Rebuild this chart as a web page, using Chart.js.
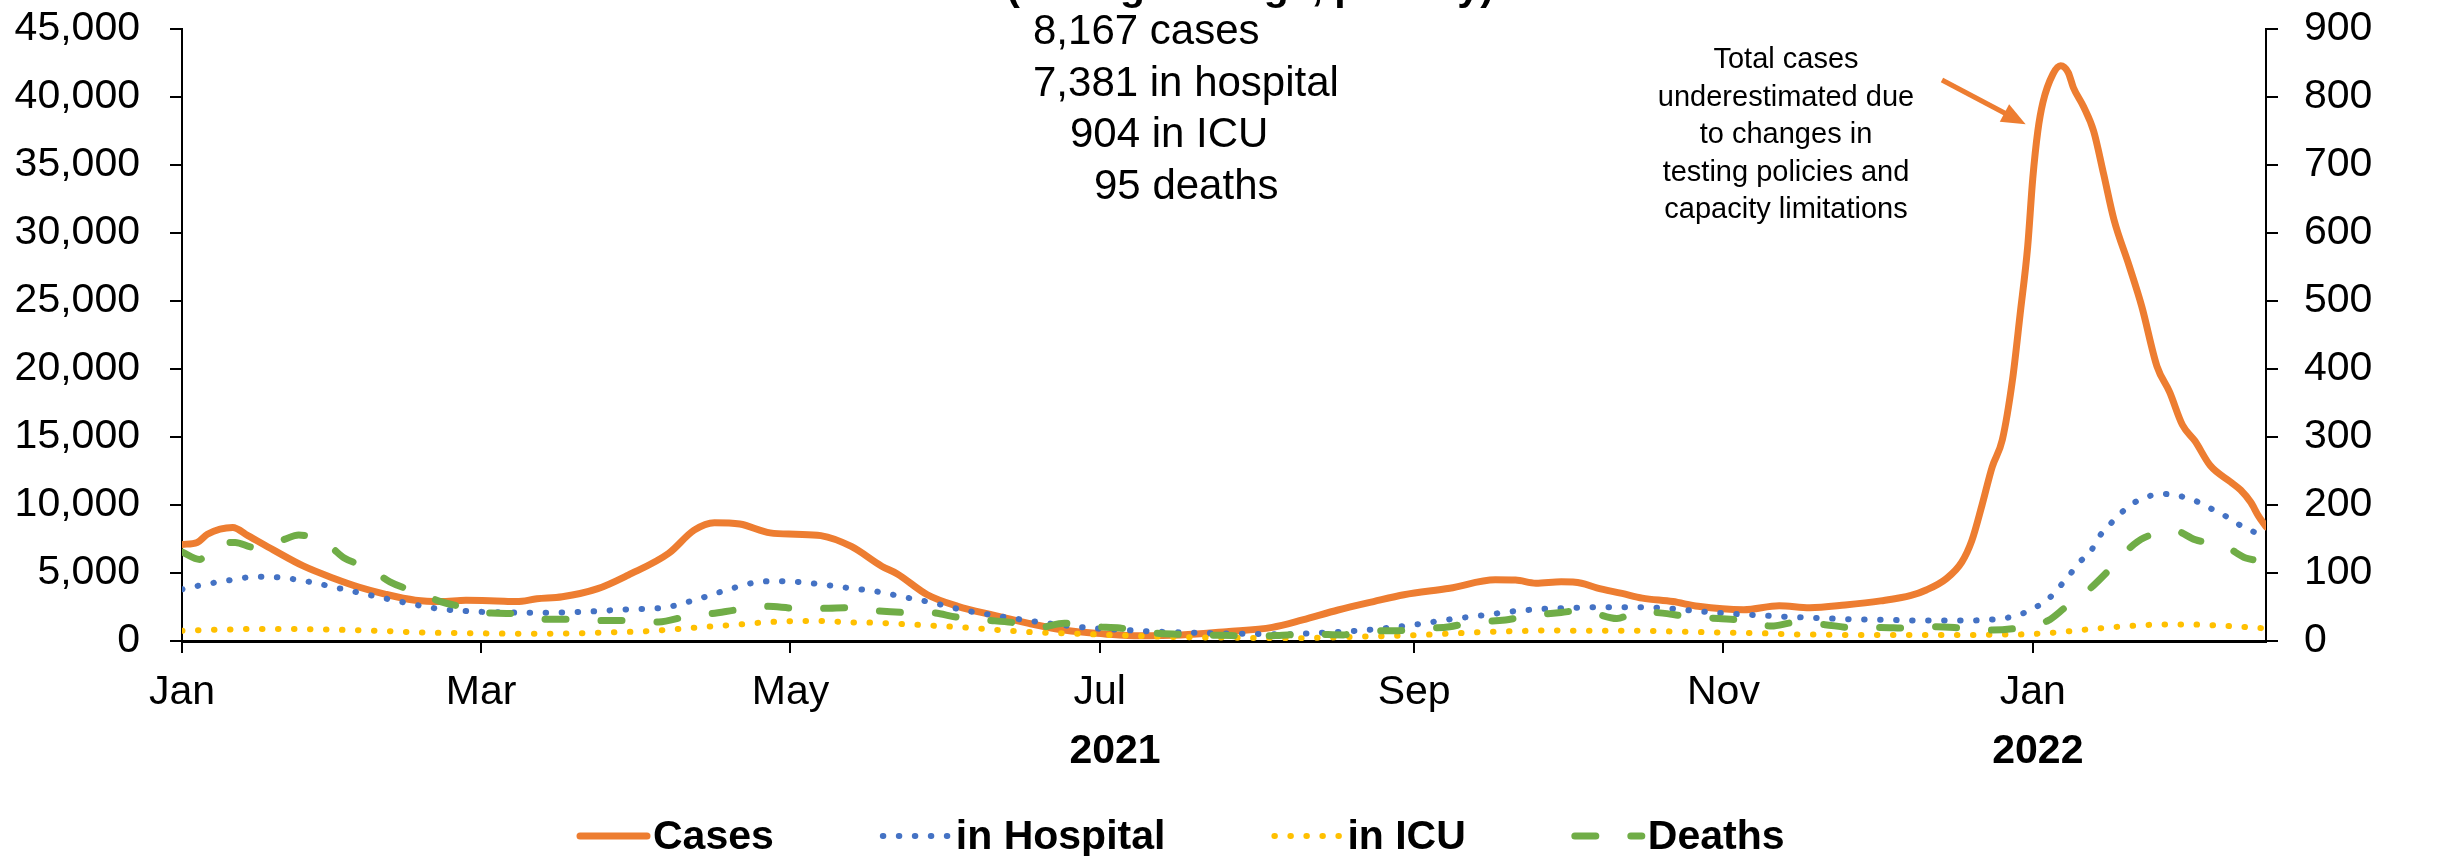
<!DOCTYPE html>
<html>
<head>
<meta charset="utf-8">
<script src="https://cdn.jsdelivr.net/npm/chart.js@4.4.0/dist/chart.umd.min.js"></script>
<style>
  html, body { margin: 0; padding: 0; background: #fff; overflow: hidden; }
  #wrap { width: 2441px; height: 856px; }
</style>
</head>
<body>
<div id="wrap"><canvas id="myChart" width="2441" height="856"></canvas></div>
<script>
// x values are days since 1 Jan 2021
const monthDays = [0, 59, 120, 181, 243, 304, 365]
const monthLabels = ["Jan", "Mar", "May", "Jul", "Sep", "Nov", "Jan"]
const yearLabels = ["2021", "2022"]
const yearDays = [184, 366]

const casesDays = [0, 3, 5, 10, 13, 18, 24, 30, 35, 40, 46, 51, 56, 62, 66, 70, 75, 82, 88, 96, 101, 105, 110, 116, 121, 126, 132, 138, 141, 147, 153, 160, 167, 174, 182, 189, 197, 206, 215, 221, 228, 235, 241, 250, 259, 263, 267, 272, 276, 279, 284, 288, 294, 299, 308, 315, 321, 328, 335, 341, 344, 348, 351, 353, 355, 357, 359, 361, 362.5, 364, 365, 366, 367, 369, 370.5, 372, 373, 375, 377, 379, 381, 384, 386.5, 389.5, 392, 394.5, 397, 400, 404, 406, 408, 409.5, 411]
const cases = [7100, 7250, 7850, 8350, 7750, 6700, 5500, 4600, 3950, 3450, 3000, 2900, 3000, 2950, 2900, 3100, 3250, 3850, 4850, 6450, 8150, 8700, 8600, 7950, 7850, 7750, 6950, 5500, 4950, 3400, 2550, 1900, 1300, 800, 520, 380, 440, 690, 1000, 1550, 2280, 2900, 3400, 3880, 4500, 4480, 4250, 4350, 4250, 3900, 3500, 3150, 2900, 2550, 2300, 2600, 2450, 2650, 2950, 3350, 3750, 4600, 5800, 7400, 10000, 12800, 14800, 19200, 24000, 29000, 34000, 37500, 39600, 41700, 42300, 41800, 40700, 39300, 37500, 34300, 31000, 27600, 24600, 20200, 18300, 15900, 14700, 12900, 11700, 11100, 10200, 9200, 8400]

const hospDays = [0, 3, 9, 15, 19, 25, 31, 37, 44, 50, 56, 62, 69, 76, 82, 88, 95, 101, 107, 113, 117, 120, 126, 132, 136, 139, 142, 148, 154, 161, 167, 174, 180, 186, 192, 199, 205, 212, 218, 225, 231, 237, 244, 250, 257, 263, 269, 273, 279, 285, 292, 298, 304, 311, 317, 323, 330, 337, 343, 349, 356, 362, 365, 368, 370, 372, 374, 376.5, 378, 380, 382.5, 385, 388, 391, 394, 397, 400, 403, 405.5, 408.5, 411]
const hospital = [3800, 4050, 4450, 4730, 4680, 4360, 3870, 3380, 2820, 2400, 2200, 2110, 2080, 2110, 2200, 2330, 2450, 3000, 3700, 4300, 4400, 4380, 4170, 3870, 3700, 3500, 3260, 2820, 2280, 1840, 1500, 1150, 930, 810, 690, 615, 560, 515, 500, 615, 735, 930, 1250, 1590, 1910, 2200, 2370, 2420, 2480, 2480, 2430, 2230, 2040, 1890, 1770, 1690, 1590, 1550, 1500, 1500, 1550, 1890, 2380, 3060, 3870, 4730, 5710, 6640, 7620, 8480, 9440, 10170, 10660, 10810, 10660, 10320, 9760, 9190, 8600, 8040, 7600]

const icuDays = [0, 7, 14, 20, 26, 33, 40, 46, 52, 59, 65, 71, 78, 85, 91, 97, 103, 110, 116, 123, 126, 132, 136, 142, 148, 155, 161, 167, 174, 180, 187, 193, 200, 206, 212, 219, 225, 232, 238, 244, 251, 257, 264, 270, 274, 280, 286, 293, 299, 305, 312, 318, 325, 331, 337, 344, 351, 357, 363, 370, 376, 382, 389, 395, 402, 408, 411]
const icu = [760, 830, 880, 880, 860, 810, 735, 640, 590, 565, 540, 540, 565, 640, 710, 860, 1030, 1220, 1400, 1470, 1470, 1370, 1350, 1250, 1130, 980, 810, 660, 565, 490, 390, 320, 270, 245, 220, 200, 245, 320, 370, 440, 565, 660, 735, 785, 760, 760, 760, 710, 660, 615, 565, 490, 465, 440, 440, 440, 440, 465, 490, 640, 860, 1050, 1200, 1220, 1130, 1000, 920]

// deaths use the right-hand axis
const deathDays = [0, 3.5, 6, 10.5, 14, 20, 23, 29, 32, 37, 41, 47, 51, 56, 61, 67, 72, 78, 83, 89, 94, 99.5, 104, 110.5, 115, 121.5, 126, 132, 136, 143, 147, 153, 158, 164, 169, 174, 180, 185, 190, 196, 201, 207, 212, 218, 223, 229, 233, 239, 244, 250, 254, 261, 265.5, 272, 276, 283, 287, 292, 296, 303, 308, 313.5, 318, 324, 329, 335, 340, 346, 351, 357, 362, 368, 371.5, 376, 380, 384, 387, 393, 397, 403, 407, 411]
const deaths = [131, 120, 139, 145, 138, 149, 156, 140, 122, 107, 87, 70, 58, 49, 41, 40, 32, 32, 30, 30, 28, 36, 40, 47, 51, 48, 48, 49, 45, 42, 42, 35, 31, 27, 20, 26, 21, 19, 13, 10, 9, 8, 7, 9, 10, 9, 15, 15, 18, 21, 27, 31, 37, 42, 45, 33, 43, 41, 37, 33, 30, 22, 27, 24, 20, 20, 19, 21, 19, 16, 19, 30, 50, 75, 104, 136, 152, 162, 149, 139, 122, 118]

const seriesNames = ["Cases", "in Hospital", "in ICU", "Deaths"]
const latestLines = ["8,167 cases", "7,381 in hospital", "904 in ICU", "95 deaths"]
const noteLines = ["Total cases", "underestimated due", "to changes in", "testing policies and", "capacity limitations"]

const FONT = '"Liberation Sans", Arial, sans-serif'
const ctx = document.getElementById('myChart')

const toPoints = (xs, ys) => xs.map((d, i) => ({ x: d, y: ys[i] }))

const styles = [
  { color: "#ED7D31", width: 7, dash: [] },
  { color: "#4472C4", width: 6, dash: [0.5, 15.5] },
  { color: "#FFC000", width: 6, dash: [0.5, 15.5] },
  { color: "#70AD47", width: 7, dash: [21, 35] }
]

const extras = {
  id: 'extras',
  afterDraw(chart) {
    const c = chart.ctx
    const xs = chart.scales.x
    const ys = chart.scales.y
    c.save()
    c.fillStyle = "#000"

    // cut-off title at the very top
    c.font = `bold 41px ${FONT}`
    c.textAlign = "center"
    c.textBaseline = "alphabetic"
    c.fillText("(rolling average, per day)", 1250, 0)

    // year labels under months
    yearLabels.forEach((t, i) => c.fillText(t, xs.getPixelForValue(yearDays[i]), 763))

    // latest values block
    c.font = `42px ${FONT}`
    c.textAlign = "left"
    const lx = [1033, 1033, 1070, 1094]
    latestLines.forEach((t, i) => c.fillText(t, lx[i], 44 + i * 51.7))

    // note
    c.font = `29px ${FONT}`
    c.textAlign = "center"
    noteLines.forEach((t, i) => c.fillText(t, 1786, 68 + i * 37.5))

    // arrow to the peak
    const tx = xs.getPixelForValue(363.6), ty = ys.getPixelForValue(38000)
    const fx = xs.getPixelForValue(347.1), fy = ys.getPixelForValue(41250)
    const ang = Math.atan2(ty - fy, tx - fx)
    c.strokeStyle = "#ED7D31"
    c.fillStyle = "#ED7D31"
    c.lineWidth = 5
    c.beginPath()
    c.moveTo(fx, fy)
    c.lineTo(tx - 18 * Math.cos(ang), ty - 18 * Math.sin(ang))
    c.stroke()
    c.beginPath()
    c.moveTo(tx, ty)
    c.lineTo(tx - 24 * Math.cos(ang) + 10 * Math.sin(ang), ty - 24 * Math.sin(ang) - 10 * Math.cos(ang))
    c.lineTo(tx - 24 * Math.cos(ang) - 10 * Math.sin(ang), ty - 24 * Math.sin(ang) + 10 * Math.cos(ang))
    c.closePath()
    c.fill()

    // legend
    let x = 577
    const ly = 836
    c.font = `bold 41px ${FONT}`
    c.textAlign = "left"
    c.textBaseline = "middle"
    seriesNames.forEach((name, i) => {
      const s = styles[i]
      c.strokeStyle = s.color
      c.lineWidth = s.width
      c.lineCap = "round"
      c.setLineDash(s.dash)
      c.beginPath()
      c.moveTo(x + 3, ly)
      c.lineTo(x + 70, ly)
      c.stroke()
      c.setLineDash([])
      c.fillStyle = "#000"
      c.fillText(name, x + 76, ly + 2)
      x += 76 + c.measureText(name).width + 106
    })
    c.restore()
  }
}

const tickFont = { family: FONT, size: 41 }
const axisGrid = { display: true, drawOnChartArea: false, drawTicks: true, tickLength: 12, color: "#000", lineWidth: 2 }

// fixed axis widths, and no extra room for the half labels at the ends
const fitWidth = (w) => (axis) => {
  axis.width = w
  axis.paddingTop = 0
  axis.paddingBottom = 0
}

const makeSet = (label, data, i, axis, order) => ({
  label: label,
  data: data,
  yAxisID: axis,
  order: order,
  borderColor: styles[i].color,
  borderWidth: styles[i].width,
  borderDash: styles[i].dash,
  borderCapStyle: "round",
  borderJoinStyle: "round",
  pointRadius: 0,
  fill: false,
  cubicInterpolationMode: "monotone"
})

new Chart(ctx, {
  type: 'line',
  data: {
    datasets: [
      makeSet(seriesNames[0], toPoints(casesDays, cases), 0, 'y', 3),
      makeSet(seriesNames[1], toPoints(hospDays, hospital), 1, 'y', 2),
      makeSet(seriesNames[2], toPoints(icuDays, icu), 2, 'y', 1),
      makeSet(seriesNames[3], toPoints(deathDays, deaths), 3, 'y1', 0)
    ]
  },
  options: {
    responsive: false,
    animation: false,
    devicePixelRatio: 1,
    layout: { padding: { top: 29, left: 0, right: 0, bottom: 0 } },
    plugins: { legend: { display: false }, tooltip: { enabled: false } },
    scales: {
      x: {
        type: 'linear',
        min: 0,
        max: 411,
        grid: axisGrid,
        border: { display: true, color: "#000", width: 3 },
        ticks: {
          font: tickFont,
          color: "#000",
          padding: 15,
          maxRotation: 0,
          autoSkip: false,
          callback: (v) => monthLabels[monthDays.indexOf(v)]
        },
        afterBuildTicks: (axis) => { axis.ticks = monthDays.map(v => ({ value: v })) },
        afterFit: (axis) => { axis.height = 215 }
      },
      y: {
        position: 'left',
        min: 0,
        max: 45000,
        grid: axisGrid,
        border: { display: true, color: "#000", width: 2 },
        ticks: {
          stepSize: 5000,
          font: tickFont,
          color: "#000",
          padding: 30,
          autoSkip: false,
          callback: (v) => v.toLocaleString('en-US')
        },
        afterFit: fitWidth(182)
      },
      y1: {
        position: 'right',
        min: 0,
        max: 900,
        grid: axisGrid,
        border: { display: true, color: "#000", width: 2 },
        ticks: {
          stepSize: 100,
          font: tickFont,
          color: "#000",
          padding: 26,
          autoSkip: false
        },
        afterFit: fitWidth(175)
      }
    }
  },
  plugins: [extras]
})
</script>
</body>
</html>
